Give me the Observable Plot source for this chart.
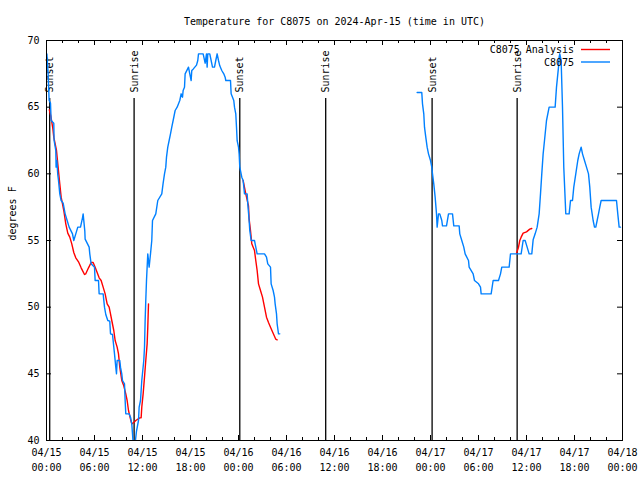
<!DOCTYPE html>
<html><head><meta charset="utf-8">
<script src="https://cdn.jsdelivr.net/npm/d3@7"></script>
<script src="https://cdn.jsdelivr.net/npm/@observablehq/plot@0.6"></script>
<style>
body{margin:0;background:#fff}
#chart{position:relative;width:640px;height:480px;overflow:hidden}
#chart svg{position:absolute;left:0;top:0}
</style></head><body><div id="chart"></div>
<script>
const title = "Temperature for C8075 on 2024-Apr-15 (time in UTC)";
const yLabel = "degrees F";
const seriesNames = ["C8075 Analysis", "C8075"];
const seriesColors = ["#ff0000", "#0080ff"];
const startDate = "2024-04-15T00:00:00Z";
const endDate = "2024-04-18T00:00:00Z";
const yTicks = [40, 45, 50, 55, 60, 65, 70];
const majorTickHours = [0, 6, 12, 18, 24, 30, 36, 42, 48, 54, 60, 66, 72];
const minorTickHours = [2, 4, 8, 10, 14, 16, 20, 22, 26, 28, 32, 34, 38, 40, 44, 46, 50, 52, 56, 58, 62, 64, 68, 70];
const eventHours = [0.4, 10.95, 24.16, 34.9, 48.2, 58.83];
const eventLabels = ["Sunset", "Sunrise", "Sunset", "Sunrise", "Sunset", "Sunrise"];

// Observations (C8075), first run
const obsHours1 = [0.05,0.2,0.33,0.5,0.58,0.91,0.95,1.16,1.2,1.3,1.4,1.5,1.66,1.83,2.08,2.33,2.58,2.83,3.25,3.41,3.66,3.91,4.25,4.5,4.58,4.79,4.83,5.33,5.41,5.58,6.0,6.08,6.5,6.58,7.08,7.25,7.41,7.66,7.91,8.0,8.25,8.5,8.66,8.75,8.83,9.16,9.25,9.41,9.5,9.75,9.83,9.91,10.33,10.5,10.66,10.75,10.83,11.08,11.25,11.5,11.58,11.75,11.91,12.16,12.25,12.33,12.41,12.5,12.66,12.83,13.0,13.16,13.25,13.66,13.91,14.41,14.58,14.75,14.91,15.0,15.16,15.33,15.5,15.66,15.83,16.08,16.33,16.66,16.83,17.0,17.08,17.25,17.33,17.75,17.91,18.08,18.16,18.33,18.75,18.91,19.0,19.58,19.83,20.0,20.08,20.16,20.41,20.58,20.75,21.0,21.16,21.33,21.5,21.66,21.91,22.16,22.33,22.41,23.0,23.08,23.41,23.5,23.66,23.75,23.83,24.0,24.08,24.16,24.41,24.58,24.75,25.08,25.16,25.33,25.41,25.58,26.0,26.08,26.33,27.25,27.5,27.66,28.0,28.08,28.33,28.5,28.58,28.75,28.83,28.91,29.0,29.16];
const obsTemps1 = [69.0,67.5,65.5,65.3,64.0,63.8,62.5,61.75,60.5,61.0,60.0,59.5,58.5,58.0,57.8,57.0,56.5,56.0,55.5,55.0,55.5,56.0,56.0,56.7,57.0,55.7,55.1,54.5,54.0,53.25,53.0,52.0,52.0,51.0,51.0,50.0,49.45,49.0,48.95,48.0,47.95,46.5,45.5,45.0,46.0,46.0,45.5,45.0,44.5,44.25,43.0,42.0,42.0,41.75,41.25,40.5,39.8,39.8,40.7,41.5,42.5,43.0,44.5,46.0,47.0,49.0,50.5,52.0,54.0,53.0,54.0,55.0,56.5,57.0,58.0,58.5,59.3,60.0,60.5,61.25,62.0,62.5,63.0,63.5,64.0,64.75,65.0,65.5,66.0,65.75,66.25,66.5,67.5,68.0,67.5,67.0,67.75,67.85,68.15,68.5,69.0,69.0,68.3,69.0,68.0,69.0,69.0,68.5,68.0,68.0,68.5,69.0,68.5,68.1,67.75,67.5,67.25,67.0,67.0,66.0,65.5,65.0,64.5,63.5,62.5,62.0,61.5,60.5,59.75,59.5,58.5,58.5,57.75,56.5,55.75,55.0,55.0,54.75,54.0,54.0,53.75,53.25,53.0,51.75,51.25,50.75,50.25,49.5,48.75,48.4,48.0,48.0];

// Observations (C8075), second run
const obsHours2 = [46.33,46.91,47.0,47.16,47.25,47.41,47.58,47.75,48.0,48.16,48.25,48.41,48.58,48.75,48.83,49.0,49.16,49.41,49.5,50.0,50.25,50.75,50.91,51.58,51.66,51.91,52.16,52.33,52.75,52.83,53.33,53.5,54.0,54.25,54.33,55.58,55.83,56.5,56.75,56.91,57.83,58.0,59.33,59.58,59.83,60.08,60.33,60.66,60.83,61.08,61.33,61.58,61.75,61.91,62.08,62.25,62.5,62.83,63.58,63.75,64.0,64.08,64.16,64.33,64.5,64.66,64.91,65.33,65.5,65.75,65.91,66.16,66.41,66.58,66.83,67.0,67.25,67.5,67.75,67.91,68.08,68.33,68.5,68.66,68.83,69.0,69.16,69.33,71.25,71.41,71.58,71.75];
const obsTemps2 = [66.1,66.1,65.25,64.5,63.5,62.75,62.0,61.5,61.0,60.5,60.0,59.25,58.25,57.0,56.0,57.0,57.0,56.5,56.1,56.1,57.0,57.0,56.1,56.1,55.5,55.0,54.5,54.0,53.5,53.0,52.5,52.0,51.75,51.5,51.0,51.0,52.0,52.0,52.5,53.0,53.0,54.0,54.0,55.0,55.0,54.5,54.0,54.0,55.05,55.5,56.0,57.0,58.5,60.0,61.5,62.5,64.0,65.0,65.0,66.5,68.0,68.75,69.0,68.5,65.0,60.5,57.0,57.0,58.0,58.0,59.0,60.0,61.0,61.5,62.0,61.5,61.0,60.5,60.0,59.0,57.5,56.5,56.0,56.0,56.5,57.0,57.5,58.0,58.0,57.0,56.0,56.0];

// Analysis (C8075 Analysis), three runs
const anaHours1 = [0.35,0.55,0.66,0.79,0.91,1.25,1.41,1.66,1.83,2.0,2.16,2.41,2.66,2.91,3.16,3.41,3.66,4.0,4.33,4.75,4.91,5.25,5.58,5.83,6.08,6.33,6.58,6.83,7.08,7.33,7.58,7.83,8.0,8.16,8.41,8.58,8.83,9.0,9.16,9.41,9.66,9.91,10.08,10.25,10.5,10.66,10.91,11.16,11.66,11.83,11.91,12.08,12.25,12.41,12.58,12.66,12.75];
const anaTemps1 = [64.8,64.3,63.9,63.4,62.75,61.75,60.75,59.25,58.25,57.75,57.25,56.25,55.55,55.25,54.75,54.1,53.7,53.4,52.95,52.45,52.5,52.95,53.35,53.35,53.0,52.6,52.2,52.0,51.5,51.0,50.25,50.0,49.5,49.0,48.25,47.5,47.0,46.5,45.5,44.5,44.1,43.5,43.0,42.25,41.6,41.25,41.35,41.5,41.7,41.7,42.5,43.5,44.75,46.0,47.25,48.5,50.25];
const anaHours2 = [24.58,24.91,25.25,25.33,25.5,25.66,26.0,26.16,26.33,26.5,26.75,27.0,27.25,27.5,27.75,28.0,28.66,28.83];
const anaTemps2 = [59.5,58.5,57.6,56.6,55.75,54.75,54.25,53.5,52.75,51.75,51.25,50.75,50.0,49.25,48.85,48.5,47.6,47.55];
const anaHours3 = [58.75,59.0,59.16,59.33,59.58,60.0,60.41,60.66];
const anaTemps3 = [54.05,54.5,55.0,55.25,55.55,55.65,55.85,55.9];

const t0 = new Date(startDate), t1 = new Date(endDate);
const at = h => new Date(t0.getTime() + h * 3600e3);
const rows = (hours, temps, seg) => hours.map((h, i) => ({t: at(h), v: temps[i], seg}));
const obs = [...rows(obsHours1, obsTemps1, 1), ...rows(obsHours2, obsTemps2, 2)];
const ana = [...rows(anaHours1, anaTemps1, 1), ...rows(anaHours2, anaTemps2, 2), ...rows(anaHours3, anaTemps3, 3)];
const events = eventHours.map((h, i) => ({t: at(h), label: eventLabels[i]}));
const majorTicks = majorTickHours.map(at);
const minorTicks = minorTickHours.map(at);

const font = "DejaVu Sans Mono";
const plot = Plot.plot({
  width: 640, height: 480,
  marginLeft: 46, marginRight: 18, marginTop: 40, marginBottom: 40,
  style: {fontFamily: font, fontSize: "10px", color: "black", background: "white", overflow: "visible"},
  x: {type: "utc", domain: [t0, t1], label: null},
  y: {domain: [40, 70], label: null},
  marks: [
    Plot.tickX(minorTicks, {x: d => d, insetTop: 397, stroke: "black"}),
    Plot.tickX(minorTicks, {x: d => d, insetBottom: 397, stroke: "black"}),
    Plot.tickX(majorTicks, {x: d => d, insetTop: 395, stroke: "black"}),
    Plot.tickX(majorTicks, {x: d => d, insetBottom: 395, stroke: "black"}),
    Plot.tickY(yTicks, {y: d => d, insetRight: 571, stroke: "black"}),
    Plot.tickY(yTicks, {y: d => d, insetLeft: 571, stroke: "black"}),
    Plot.axisX({ticks: majorTicks, tickFormat: d3.utcFormat("%m/%d\n%H:%M"), tickSize: 0, tickPadding: 5, lineHeight: 1.5, fill: "black"}),
    Plot.axisY({ticks: yTicks, tickSize: 0, tickPadding: 7, fill: "black"}),
    Plot.ruleX(events, {x: "t", insetTop: 58, stroke: "black", strokeWidth: 1.3}),
    Plot.text(events, {x: "t", text: "label", frameAnchor: "top", rotate: -90, textAnchor: "start", dy: 52, dx: -3.5, fill: "black"}),
    Plot.line(ana, {x: "t", y: "v", z: "seg", stroke: seriesColors[0], strokeWidth: 1.4, clip: true}),
    Plot.line(obs, {x: "t", y: "v", z: "seg", stroke: seriesColors[1], strokeWidth: 1.4, clip: true}),
    Plot.frame({stroke: "black"}),
    Plot.text([title], {text: d => d, frameAnchor: "top", dy: -22.5, fill: "black"}),
    Plot.text([yLabel], {text: d => d, frameAnchor: "left", dx: -34, rotate: -90, fill: "black"})
  ]
});
const chart = document.getElementById("chart");
chart.appendChild(plot);

// Legend (top right, inside the frame)
const legend = d3.create("svg").attr("width", 640).attr("height", 480)
  .style("pointer-events", "none").style("font-family", font).style("font-size", "10px");
seriesNames.forEach((name, i) => {
  const y = 49.5 + i * 12.5;
  legend.append("text").attr("x", 574).attr("y", y).attr("dy", "0.35em")
    .attr("text-anchor", "end").attr("fill", "black").text(name);
  legend.append("line").attr("x1", 581).attr("x2", 610).attr("y1", y).attr("y2", y)
    .attr("stroke", seriesColors[i]).attr("stroke-width", 1.4);
});
chart.appendChild(legend.node());
</script></body></html>
